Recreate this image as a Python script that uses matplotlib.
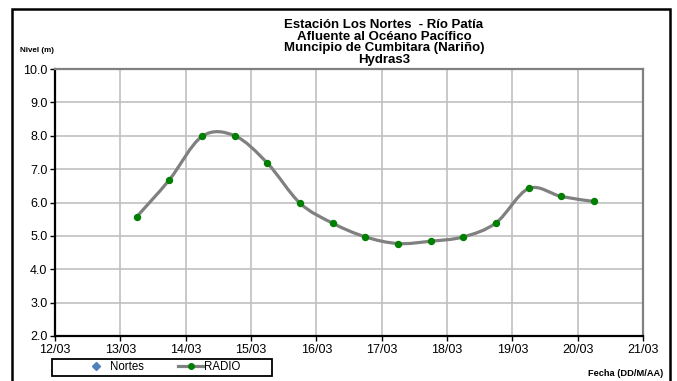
import numpy as np
import pandas as pd
import matplotlib
matplotlib.use("Agg")
import matplotlib.pyplot as plt
import matplotlib.dates as mdates
from matplotlib.path import Path
from matplotlib.patches import PathPatch, Rectangle
from matplotlib.lines import Line2D

plt.rcParams["font.family"] = ["Liberation Sans", "DejaVu Sans"]

# datos (cada 12 horas)
fechas = ["2023-03-13 06:00", "2023-03-13 18:00", "2023-03-14 06:00", "2023-03-14 18:00",
          "2023-03-15 06:00", "2023-03-15 18:00", "2023-03-16 06:00", "2023-03-16 18:00",
          "2023-03-17 06:00", "2023-03-17 18:00", "2023-03-18 06:00", "2023-03-18 18:00",
          "2023-03-19 06:00", "2023-03-19 18:00", "2023-03-20 06:00"]
radio = [5.57, 6.68, 7.98, 8.00, 7.18, 5.98, 5.38, 4.97, 4.77, 4.84, 4.97, 5.39, 6.42, 6.18, 6.03]
nortes = []  # serie sin datos

titulo = ["Estación Los Nortes  - Río Patía",
          "Afluente al Océano Pacífico",
          "Muncipio de Cumbitara (Nariño)",
          "Hydras3"]

x = mdates.date2num(pd.to_datetime(fechas))
y = np.array(radio)

W, H = 677, 381
fig = plt.figure(figsize=(W / 100, H / 100), dpi=100)
ax = fig.add_axes([55 / W, 1 - 336 / H, (643 - 55) / W, (336 - 69) / H])

# linea suavizada tipo Excel (bezier por los puntos)
px = np.concatenate([[x[0]], x, [x[-1]]])
py = np.concatenate([[y[0]], y, [y[-1]]])
verts = [(x[0], y[0])]
codes = [Path.MOVETO]
for i in range(1, len(px) - 2):
    c1 = (px[i] + (px[i + 1] - px[i - 1]) / 6, py[i] + (py[i + 1] - py[i - 1]) / 6)
    c2 = (px[i + 1] - (px[i + 2] - px[i]) / 6, py[i + 1] - (py[i + 2] - py[i]) / 6)
    verts += [c1, c2, (px[i + 1], py[i + 1])]
    codes += [Path.CURVE4] * 3
ax.add_patch(PathPatch(Path(verts, codes), facecolor="none", edgecolor="#808080", lw=2.3, zorder=3))
ax.plot(x, y, linestyle="none", marker="o", ms=4.3, color="#008000", zorder=4)

ax.set_xlim(mdates.date2num(pd.Timestamp("2023-03-12")), mdates.date2num(pd.Timestamp("2023-03-21")))
ax.set_ylim(2, 10)
ax.xaxis.set_major_locator(mdates.DayLocator())
ax.xaxis.set_major_formatter(mdates.DateFormatter("%d/%m"))
ax.set_yticks(np.arange(2, 10.1, 1))
ax.yaxis.set_major_formatter(matplotlib.ticker.FormatStrFormatter("%.1f"))
ax.tick_params(labelsize=9, length=3.5, width=1, pad=2, color="black")
ax.grid(True, color="#c0c0c0", lw=1.2)
ax.set_axisbelow(True)
for s in ["left", "bottom"]:
    ax.spines[s].set_color("black")
    ax.spines[s].set_linewidth(1.6)
for s in ["top", "right"]:
    ax.spines[s].set_color("#808080")
    ax.spines[s].set_linewidth(1.6)

# titulos
for i, t in enumerate(titulo):
    fig.text(384 / W, 1 - (28 + 11.7 * i) / H, t, ha="center", va="baseline",
             fontsize=9.5, fontweight="bold")
fig.text(20 / W, 1 - 50 / H, "Nivel (m)", ha="left", va="center", fontsize=5.8, fontweight="bold")
fig.text(663 / W, 1 - 373 / H, "Fecha (DD/M/AA)", ha="right", va="center", fontsize=6.7, fontweight="bold")

# leyenda
handles = [Line2D([], [], linestyle="none", marker="D", ms=4, color="#4F81BD"),
           Line2D([], [], color="#808080", lw=2.3, marker="o", ms=4, markerfacecolor="#008000",
                  markeredgecolor="#008000")]
leg = fig.legend(handles, ["Nortes", "RADIO"], ncol=2, loc="center",
                 bbox_to_anchor=(162 / W, 1 - 367.5 / H), fontsize=8.3, frameon=False,
                 handlelength=2.17, handletextpad=0.05, columnspacing=3.0,
                 borderpad=0, borderaxespad=0)
fig.patches.append(Rectangle((52 / W, 1 - 376 / H), (272 - 52) / W, (376 - 359) / H,
                             transform=fig.transFigure, fill=False, edgecolor="black", lw=1.3))

# marco exterior (el borde inferior queda fuera de la imagen)
fig.patches.append(Rectangle((12 / W, -0.02), (670 - 12) / W, 1.02 - 9 / H,
                             transform=fig.transFigure, fill=False, edgecolor="black", lw=1.8))

fig.savefig("out.png", dpi=100)
